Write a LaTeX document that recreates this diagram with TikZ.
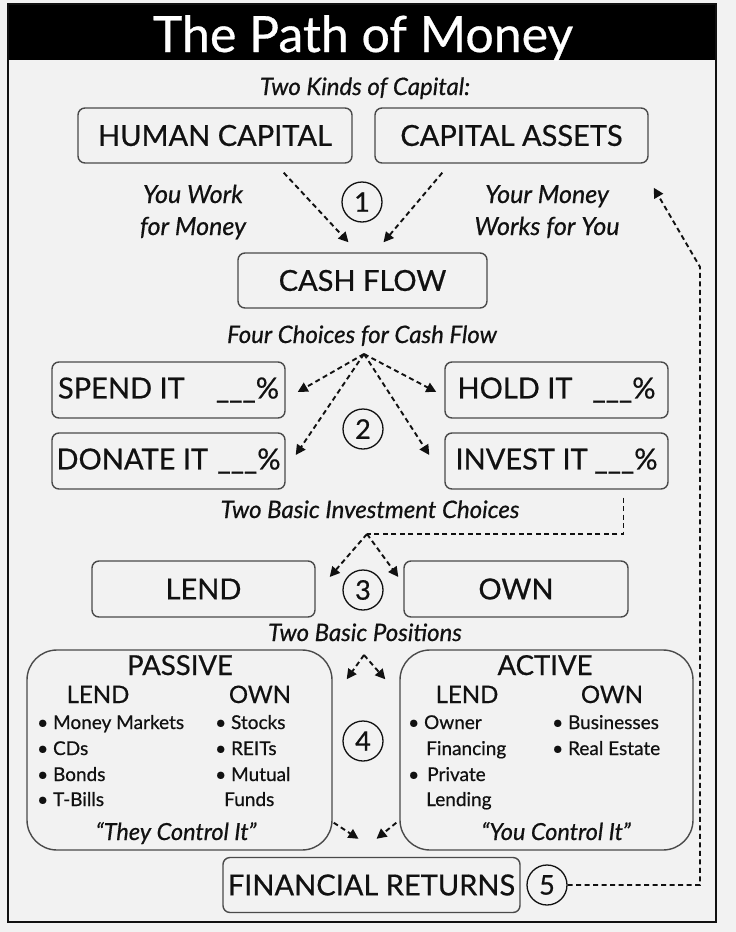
\documentclass[tikz,border=0pt]{standalone}
\usepackage{fontspec}
\setmainfont{Lato}[FakeBold=0.6]
\usetikzlibrary{arrows.meta,calc}
\definecolor{bg}{HTML}{F2F2F2}
\definecolor{edge}{HTML}{4A4A4A}
\definecolor{ink}{HTML}{111111}
\tikzset{
 box/.style={draw=edge, line width=1.4pt, rounded corners=7pt, fill=bg, minimum height=55pt, inner sep=0pt, font=\fontsize{29}{33}\selectfont, text=ink},
 bigbox/.style={draw=edge, line width=1.4pt, rounded corners=30pt, inner sep=0pt},
 lbl/.style={anchor=base, font=\fontsize{24}{28}\selectfont\itshape, text=ink},
 side/.style={lbl, font=\fontsize{25}{28}\selectfont\itshape},
 quote/.style={lbl, font=\fontsize{23.5}{28}\selectfont\itshape},
 num/.style={circle, draw=ink, line width=1.3pt, minimum size=40pt, inner sep=0pt, font=\fontsize{27}{30}\selectfont, text=ink},
 darr/.style={draw=ink, line width=1.9pt, dash pattern=on 5pt off 3.5pt, -{Triangle[length=10pt,width=10pt]}},
 dline/.style={draw=ink, line width=1.9pt, dash pattern=on 5pt off 3.5pt},
 item/.style={anchor=base west, font=\fontsize{19}{22}\selectfont, text=ink, inner sep=0pt},
 head/.style={anchor=base, font=\fontsize{24}{28}\selectfont, text=ink, inner sep=0pt},
 title2/.style={anchor=base, font=\fontsize{27.5}{30}\selectfont, text=ink, inner sep=0pt},
}
\begin{document}
\begin{tikzpicture}[x=1pt,y=-1pt]
\useasboundingbox (0,0) rectangle (736,932);
\fill[bg] (0,0) rectangle (736,932);
% frame and title bar
\fill[black] (8,4) rectangle (716,60);
\draw[line width=1.6pt, draw=ink] (8,4) rectangle (716,922);
\node[anchor=base, text=white, font=\fontsize{50}{54}\selectfont] (title) at (363,52) {The Path of Money};

% step 1
\node[lbl] (kinds) at (365,95) {Two Kinds of Capital:};
\node[box, minimum width=274pt] (human) at (215,135.5) {HUMAN CAPITAL};
\node[box, minimum width=273pt] (assets) at (511.5,135.5) {CAPITAL ASSETS};
\node[side] (youwork1) at (193,203) {You Work};
\node[side] (youwork2) at (193,235) {for Money};
\node[side] (yourmoney1) at (547,203) {Your Money};
\node[side] (yourmoney2) at (547,235) {Works for You};
\node[num] (n1) at (362,202) {1};
\node[box, minimum width=249pt] (cash) at (362.5,280.5) {CASH FLOW};
\draw[darr] ($(human.south east)+(-69,9)$) -- ($(cash.north)+(-14,-10)$);
\draw[darr] ($(assets.south west)+(68,9)$) -- ($(cash.north)+(21,-10)$);

% step 2
\node[lbl] (four) at (362,343) {Four Choices for Cash Flow};
\coordinate (fc) at (364,354);
\node[box, minimum width=233pt, minimum height=56pt] (spend) at (168.5,390) {\makebox[221pt]{SPEND IT\hfill\_\_\_\%}};
\node[box, minimum width=223pt, minimum height=56pt] (hold) at (556.5,390) {\makebox[198pt]{HOLD IT\hfill\_\_\_\%}};
\node[box, minimum width=233pt, minimum height=56pt] (donate) at (168.5,461) {\makebox[224pt]{DONATE IT\hfill\_\_\_\%}};
\node[box, minimum width=223pt, minimum height=56pt] (invest) at (556.5,461) {\makebox[202pt]{INVEST IT\hfill\_\_\_\%}};
\node[num] (n2) at (363,429) {2};
\draw[darr] (fc) -- ($(spend.east)+(12,2)$);
\draw[darr] (fc) -- ($(hold.west)+(-8,2)$);
\draw[darr] (fc) -- ($(donate.east)+(10,-6)$);
\draw[darr] (fc) -- ($(invest.west)+(-15,-6)$);

% step 3
\node[lbl] (basic) at (370,518) {Two Basic Investment Choices};
\coordinate (ic) at (367,534);
\draw[dline] ($(invest.south)+(67,8)$) |- (ic);
\node[box, minimum width=223pt, minimum height=56pt] (lend) at (203.5,589) {LEND};
\node[box, minimum width=224pt, minimum height=56pt] (own) at (516,589) {OWN};
\node[num] (n3) at (363,590) {3};
\draw[darr] (ic) -- ($(lend.east)+(14,-12)$);
\draw[darr] (ic) -- ($(own.west)+(-5,-12)$);

% step 4
\node[lbl] (positions) at (365,641) {Two Basic Positions};
\node[bigbox, minimum width=305pt, minimum height=200pt] (passive) at (179.5,750) {};
\node[bigbox, minimum width=293pt, minimum height=200pt] (active) at (546.5,750) {};
\coordinate (pc) at (364,655);
\draw[darr] (pc) -- ($(passive.north east)+(14,30)$);
\draw[darr] (pc) -- ($(active.north west)+(-14,30)$);
\node[num] (n4) at (363,741) {4};

\node[title2] (passivet) at (180,675) {PASSIVE};
\node[head] (plend) at (98,703) {LEND};
\node[head] (pown) at (260,703) {OWN};
\node[item] (p1) at (37,729) {• Money Markets};
\node[item] (p2) at (37,755) {• CDs};
\node[item] (p3) at (37,781) {• Bonds};
\node[item] (p4) at (37,806) {• T-Bills};
\node[item] (p5) at (215,729) {• Stocks};
\node[item] (p6) at (215,755) {• REITs};
\node[item] (p7) at (215,781) {• Mutual};
\node[item] (p8) at (224,806) {Funds};
\node[quote] (they) at (176,840) {“They Control It”};

\node[title2] (activet) at (545,675) {ACTIVE};
\node[head] (alend) at (467,703) {LEND};
\node[head] (aown) at (612,703) {OWN};
\node[item] (a1) at (408,729) {• Owner};
\node[item] (a2) at (426,755) {Financing};
\node[item] (a3) at (408,781) {• \,Private};
\node[item] (a4) at (426,806) {Lending};
\node[item] (a5) at (552,729) {• Businesses};
\node[item] (a6) at (552,755) {• Real Estate};
\node[quote] (you) at (556,840) {“You Control It”};

% step 5
\node[box, minimum width=297pt, minimum height=55pt] (returns) at (371.5,885) {FINANCIAL RETURNS};
\node[num] (n5) at (547,885) {5};
\draw[darr] ($(passive.south east)+(1,-28)$) -- ($(returns.north)+(-13,-18)$);
\draw[darr] ($(active.south west)+(-3,-28)$) -- ($(returns.north)+(5,-18)$);
\coordinate (r1) at (700,885);
\coordinate (r2) at (700,267);
\draw[darr] (n5.east) -- (r1) -- (r2) -- ($(assets.south east)+(5,24)$);
\end{tikzpicture}
\end{document}
